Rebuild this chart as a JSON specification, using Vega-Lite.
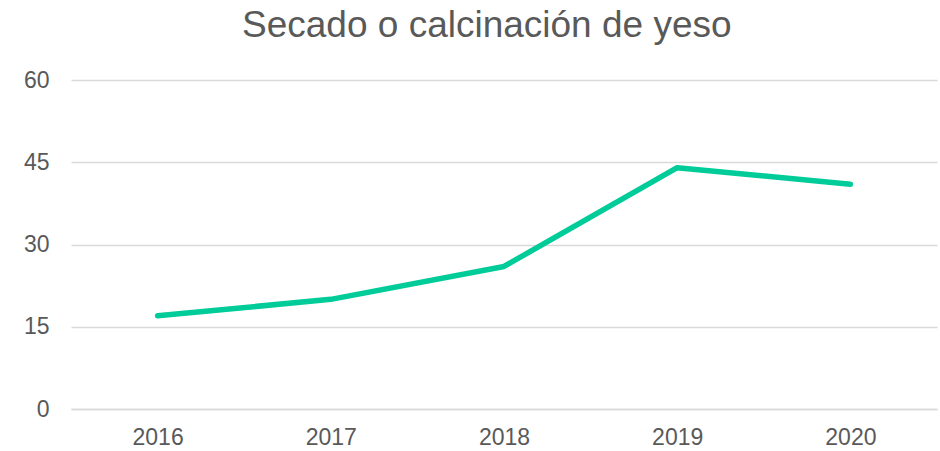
{
  "$schema": "https://vega.github.io/schema/vega-lite/v6.json",
  "autosize": "none",
  "width": 866,
  "height": 329,
  "padding": {"left": 71, "top": 80, "right": 3, "bottom": 42},
  "background": "white",
  "title": {
    "text": "Secado o calcinación de yeso",
    "font": "Liberation Sans",
    "fontSize": 37,
    "fontWeight": "normal",
    "color": "#595959",
    "anchor": "start",
    "frame": "group",
    "dx": 171,
    "offset": 24
  },
  "data": {
    "values": [
      {"year": "2016", "value": 17},
      {"year": "2017", "value": 20},
      {"year": "2018", "value": 26},
      {"year": "2019", "value": 44},
      {"year": "2020", "value": 41}
    ]
  },
  "config": {
    "view": {"stroke": null},
    "axis": {
      "labelFont": "Liberation Sans",
      "labelFontSize": 23,
      "labelColor": "#595959",
      "domain": false,
      "ticks": false,
      "title": null
    }
  },
  "mark": {"type": "line", "color": "#00CC99", "strokeWidth": 5.5, "strokeCap": "round", "strokeJoin": "round"},
  "encoding": {
    "x": {
      "field": "year",
      "type": "ordinal",
      "scale": {"type": "point", "padding": 0.5},
      "axis": {"labelAngle": 0, "labelPadding": 17, "grid": false, "domain": true, "domainColor": "#D9D9D9", "domainWidth": 1.5}
    },
    "y": {
      "field": "value",
      "type": "quantitative",
      "scale": {"domain": [0, 60]},
      "axis": {"values": [0, 15, 30, 45, 60], "grid": true, "gridColor": "#D9D9D9", "gridWidth": 1.5, "labelPadding": 22}
    }
  }
}
